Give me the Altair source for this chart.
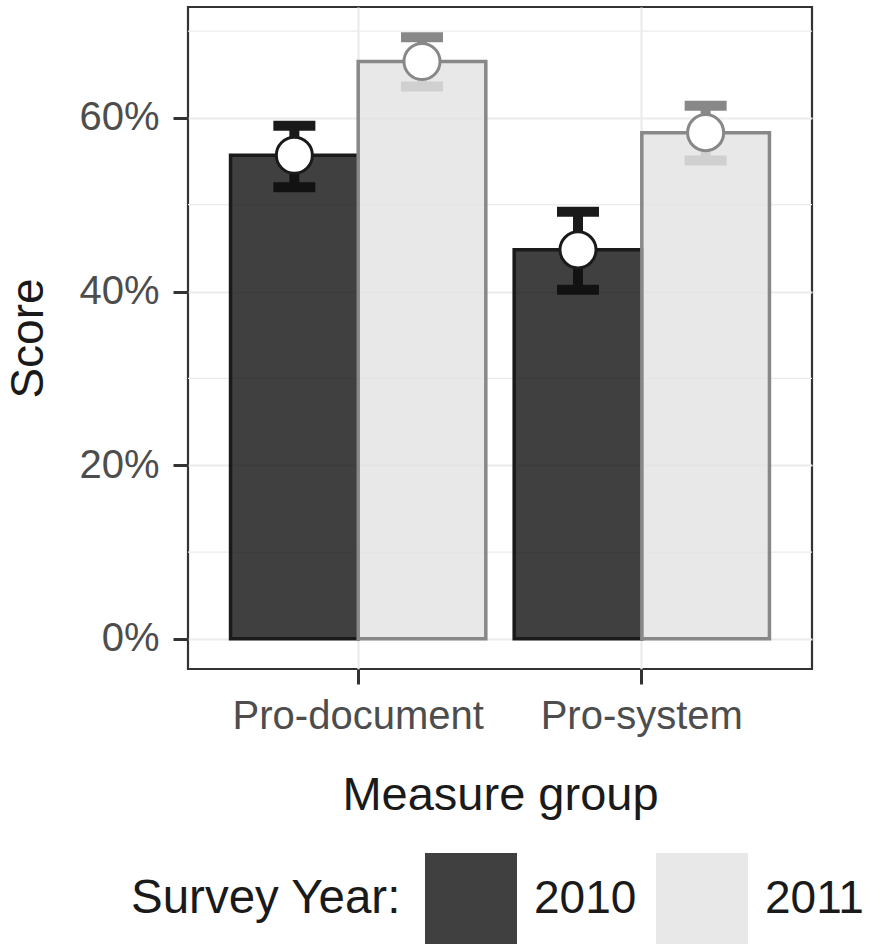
import altair as alt
import pandas as pd

# Survey scores by measure group and survey year, with interval bounds
groups = ["Pro-document", "Pro-document", "Pro-system", "Pro-system"]
years = ["2010", "2011", "2010", "2011"]
scores = [0.557, 0.665, 0.448, 0.583]
upper = [0.591, 0.693, 0.492, 0.614]
lower = [0.520, 0.636, 0.402, 0.551]

year_order = ["2010", "2011"]
minor_grid = [0.1, 0.3, 0.5, 0.7]
major_ticks = [0.0, 0.2, 0.4, 0.6]

df = pd.DataFrame({
    "group": groups,
    "year": years,
    "score": scores,
    "upper": upper,
    "lower": lower,
})

FONT = "Liberation Sans"
fill_range = ["#101010", "#e2e2e2"]
line_range = ["#1a1a1a", "#888888"]

y_scale = alt.Scale(domain=[-0.0347, 0.7277], nice=False, zero=False)
y_axis = alt.Axis(
    values=major_ticks, format=".0%", title="Score",
    labelFontSize=40, labelColor="#4d4d4d", labelPadding=14,
    tickSize=15, tickWidth=3, tickColor="#333333",
    gridColor="#ebebeb", gridWidth=2.2, domain=False,
    titleFontSize=46, titleColor="#1a1a1a", titleFontWeight="normal",
    titlePadding=26,
)

x_enc = alt.X(
    "group:N", title="Measure group",
    scale=alt.Scale(paddingInner=0.1, paddingOuter=0.15),
    axis=alt.Axis(
        labelAngle=0, labelFontSize=40, labelColor="#4d4d4d", labelPadding=12,
        labelLimit=0,
        tickSize=15, tickWidth=3, tickColor="#333333",
        grid=True, gridColor="#ebebeb", gridWidth=2.2, domain=False,
        titleFontSize=47, titleColor="#1a1a1a", titleFontWeight="normal",
        titlePadding=36,
    ),
)
xoff = alt.XOffset("year:N", sort=year_order)

# outline colours (bar edges, interval bars, point rims)
line_scale = alt.Scale(domain=year_order, range=line_range)

base = alt.Chart(df)

# light minor gridlines between the labelled ones
minor = alt.Chart(pd.DataFrame({"v": minor_grid})).mark_rule(
    color="#ebebeb", strokeWidth=1.2
).encode(y=alt.Y("v:Q", scale=y_scale, axis=y_axis))

stems = base.mark_rule(strokeWidth=10).encode(
    x=x_enc, xOffset=xoff,
    y=alt.Y("lower:Q", scale=y_scale, axis=y_axis),
    y2="upper:Q",
    stroke=alt.Stroke("year:N", scale=line_scale, legend=None),
)

cap_hi = base.mark_tick(thickness=10, size=42, orient="horizontal", opacity=1).encode(
    x=x_enc, xOffset=xoff,
    y=alt.Y("upper:Q", scale=y_scale, axis=y_axis),
    color=alt.Color("year:N", scale=line_scale, legend=None),
)
cap_lo = base.mark_tick(thickness=10, size=42, orient="horizontal", opacity=1).encode(
    x=x_enc, xOffset=xoff,
    y=alt.Y("lower:Q", scale=y_scale, axis=y_axis),
    color=alt.Color("year:N", scale=line_scale, legend=None),
)

bars = base.mark_bar(fillOpacity=0.8, strokeWidth=3.5).encode(
    x=x_enc, xOffset=xoff,
    y=alt.Y("score:Q", scale=y_scale, axis=y_axis, stack=None),
    fill=alt.Fill(
        "year:N",
        scale=alt.Scale(range=fill_range),
        legend=alt.Legend(
            title="Survey Year:", orient="none", legendX=-57, legendY=846,
            direction="horizontal", titleOrient="left", titleLimit=1000,
            symbolType="square", symbolSize=8464, symbolStrokeWidth=0,
            symbolOpacity=0.8,
            labelFontSize=46, titleFontSize=47.5, labelLimit=1000,
            labelColor="#1a1a1a", titleColor="#1a1a1a",
            titleFontWeight="normal", labelOffset=17, columnPadding=19,
            titlePadding=23, padding=0,
        ),
    ),
    stroke=alt.Stroke("year:N", scale=line_scale, legend=None),
)

points = base.mark_point(
    shape="circle", filled=True, fill="white", size=1300, strokeWidth=3, opacity=1
).encode(
    x=x_enc, xOffset=xoff,
    y=alt.Y("score:Q", scale=y_scale, axis=y_axis),
    stroke=alt.Stroke("year:N", scale=line_scale, legend=None),
)

chart = alt.layer(minor, stems, cap_hi, cap_lo, bars, points).properties(
    width=624, height=662,
    autosize=alt.AutoSizeParams(type="none"),
    padding={"left": 188, "top": 7, "right": 57, "bottom": 275},
).configure(font=FONT).configure_view(
    stroke="#333333", strokeWidth=2.2
)

chart.save("out.html", embed_options={"renderer": "svg", "actions": False})
